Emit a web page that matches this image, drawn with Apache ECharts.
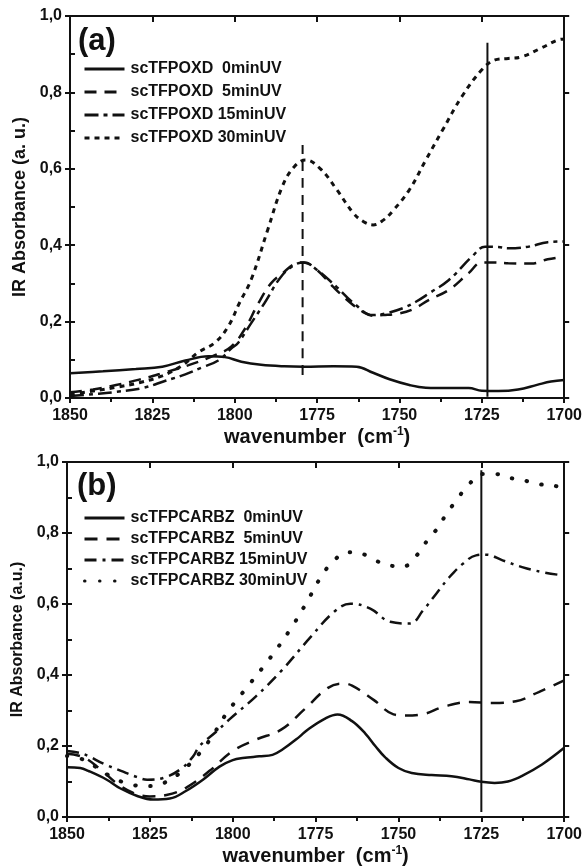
<!DOCTYPE html>
<html>
<head>
<meta charset="utf-8">
<script src="https://cdn.jsdelivr.net/npm/echarts@6/dist/echarts.min.js"></script>
<style>
  html, body { margin: 0; padding: 0; background: #fff; }
  #chart { width: 585px; height: 867px; }
</style>
</head>
<body>
<div id="chart"></div>
<script>
const FONT = '"Liberation Sans", Arial, Helvetica, sans-serif'
const INK = '#111'

// panel (a): scTFPOXD
const aNames = ['scTFPOXD  0minUV', 'scTFPOXD  5minUV', 'scTFPOXD 15minUV', 'scTFPOXD 30minUV']
const aWn0 = [1850, 1840, 1830, 1822, 1815, 1808, 1803, 1798, 1792, 1785, 1779, 1770, 1763, 1758, 1753, 1747, 1742, 1735, 1729, 1725, 1720, 1714, 1708, 1704, 1700]
const aAbs0 = [0.065, 0.070, 0.076, 0.082, 0.098, 0.109, 0.107, 0.095, 0.087, 0.083, 0.082, 0.083, 0.082, 0.066, 0.049, 0.034, 0.027, 0.026, 0.026, 0.019, 0.018, 0.022, 0.035, 0.043, 0.047]
const aWn5 = [1850, 1843, 1836, 1829, 1822, 1814, 1806, 1801, 1797, 1793, 1789, 1785, 1782, 1779, 1775, 1770, 1765, 1761, 1758, 1755, 1751, 1746, 1741, 1735, 1729, 1725, 1721, 1717, 1710, 1705, 1700]
const aAbs5 = [0.015, 0.022, 0.034, 0.048, 0.065, 0.086, 0.112, 0.135, 0.18, 0.245, 0.30, 0.33, 0.35, 0.355, 0.335, 0.29, 0.25, 0.225, 0.215, 0.217, 0.22, 0.232, 0.257, 0.283, 0.327, 0.355, 0.355, 0.353, 0.352, 0.363, 0.37]
const aWn15 = [1850, 1843, 1836, 1828, 1821, 1815, 1810, 1805, 1801, 1799, 1795, 1791, 1786, 1782, 1779, 1775, 1769, 1764, 1758, 1754, 1749, 1745, 1741, 1735, 1728, 1724, 1720, 1717, 1711, 1705, 1700]
const aAbs15 = [0.005, 0.010, 0.016, 0.026, 0.045, 0.062, 0.080, 0.098, 0.13, 0.144, 0.196, 0.248, 0.317, 0.348, 0.355, 0.335, 0.29, 0.249, 0.217, 0.222, 0.235, 0.252, 0.274, 0.309, 0.37, 0.396, 0.395, 0.392, 0.396, 0.408, 0.41]
const aWn30 = [1850, 1843, 1836, 1829, 1822, 1816, 1811, 1806, 1802, 1798.5, 1795, 1790, 1785.5, 1782, 1778.5, 1774, 1769, 1764, 1761, 1758, 1755, 1752, 1747, 1742, 1737, 1731, 1725, 1721, 1717, 1713, 1707, 1702, 1700]
const aAbs30 = [0.010, 0.018, 0.028, 0.040, 0.058, 0.085, 0.12, 0.145, 0.187, 0.25, 0.31, 0.44, 0.555, 0.605, 0.623, 0.60, 0.545, 0.484, 0.462, 0.453, 0.465, 0.49, 0.545, 0.623, 0.70, 0.79, 0.859, 0.885, 0.889, 0.893, 0.916, 0.937, 0.94]
const aMarkSolid = [[1723.3, 0.003], [1723.3, 0.93]]
const aMarkDash = [[1779.4, 0.06], [1779.4, 0.662]]

// panel (b): scTFPCARBZ
const bNames = ['scTFPCARBZ  0minUV', 'scTFPCARBZ  5minUV', 'scTFPCARBZ 15minUV', 'scTFPCARBZ 30minUV']
const bWn0 = [1850, 1846, 1843.6, 1838, 1834, 1829, 1824, 1819, 1814, 1809, 1804, 1800, 1797, 1792, 1788, 1785, 1780, 1777.4, 1772, 1768.4, 1764, 1760, 1757, 1754, 1750, 1746, 1740, 1734, 1728.6, 1725, 1721, 1717, 1712.7, 1706.7, 1700]
const bAbs0 = [0.140, 0.138, 0.130, 0.105, 0.081, 0.060, 0.049, 0.052, 0.074, 0.105, 0.142, 0.160, 0.166, 0.171, 0.175, 0.19, 0.225, 0.246, 0.278, 0.289, 0.27, 0.235, 0.20, 0.168, 0.138, 0.124, 0.118, 0.115, 0.106, 0.099, 0.096, 0.100, 0.116, 0.148, 0.195]
const bWn5 = [1850, 1845, 1840, 1835, 1830, 1825, 1820, 1814, 1807, 1800, 1793, 1785.4, 1778.4, 1771.4, 1767, 1764, 1757.5, 1751.5, 1748.5, 1742.5, 1736.6, 1728.6, 1721.6, 1714.6, 1707.7, 1700]
const bAbs5 = [0.178, 0.168, 0.135, 0.095, 0.068, 0.058, 0.062, 0.083, 0.13, 0.186, 0.218, 0.246, 0.303, 0.363, 0.376, 0.37, 0.33, 0.289, 0.286, 0.29, 0.31, 0.324, 0.321, 0.326, 0.352, 0.385]
const bWn15 = [1850, 1846, 1843.6, 1839, 1833.7, 1829, 1825.8, 1821, 1815.7, 1812, 1810, 1805, 1801, 1793, 1785.5, 1776.4, 1769.4, 1764.5, 1758.5, 1752.5, 1746.5, 1742.5, 1738.6, 1734.6, 1730.6, 1726.6, 1723.6, 1718.6, 1712.7, 1706.7, 1700]
const bAbs15 = [0.186, 0.180, 0.172, 0.15, 0.13, 0.113, 0.105, 0.110, 0.135, 0.17, 0.20, 0.24, 0.275, 0.34, 0.41, 0.508, 0.578, 0.601, 0.587, 0.55, 0.545, 0.583, 0.629, 0.676, 0.713, 0.737, 0.739, 0.723, 0.704, 0.69, 0.68]
const bWn30 = [1850, 1846, 1842, 1836, 1830, 1826, 1822, 1818, 1814, 1810, 1806, 1801.8, 1795.3, 1788.8, 1782.9, 1777.9, 1773.4, 1769.9, 1765.4, 1761.5, 1757, 1753, 1748.5, 1744.5, 1741, 1738, 1735.6, 1732.6, 1729.1, 1724.6, 1720.6, 1716.7, 1711.7, 1707.2, 1703.2, 1700]
const bAbs30 = [0.172, 0.165, 0.145, 0.11, 0.09, 0.087, 0.092, 0.11, 0.14, 0.18, 0.23, 0.293, 0.37, 0.447, 0.525, 0.601, 0.676, 0.718, 0.746, 0.743, 0.723, 0.709, 0.706, 0.737, 0.783, 0.816, 0.853, 0.891, 0.933, 0.966, 0.966, 0.956, 0.947, 0.937, 0.933, 0.928]
const bMarkSolid = [[1725, 0.014], [1725, 0.977]]

const xTickFormat = (v) => String(v)
const yTickFormat = (v) => v.toFixed(1).replace('.', ',')

function zip(xs, ys) {
  return xs.map((x, i) => [x, ys[i]])
}

function panelAxes(gi, yName, yNameSize, yNameGap) {
  const frame = { color: INK, width: 2 }
  const xs = [
    {
      gridIndex: gi, type: 'value', min: 1700, max: 1850, interval: 25, inverse: true, position: 'bottom',
      axisLine: { onZero: false, lineStyle: frame },
      axisTick: { length: 5, lineStyle: frame },
      minorTick: { show: true, splitNumber: 2, length: 4, lineStyle: frame },
      splitLine: { show: false },
      axisLabel: { color: INK, fontFamily: FONT, fontWeight: 'bold', fontSize: 16, margin: 10, formatter: xTickFormat },
      name: '{n|wavenumber  (cm}{s|-1}{n|)}',
      nameLocation: 'middle',
      nameGap: 28,
      nameTextStyle: {
        rich: {
          n: { fontFamily: FONT, fontWeight: 'bold', fontSize: 20, color: INK, lineHeight: 22 },
          s: { fontFamily: FONT, fontWeight: 'bold', fontSize: 12, color: INK, lineHeight: 22, verticalAlign: 'top' },
        },
      },
    },
    {
      gridIndex: gi, type: 'value', min: 1700, max: 1850, interval: 25, inverse: true, position: 'top',
      axisLine: { onZero: false, lineStyle: frame },
      axisTick: { inside: true, length: 6, lineStyle: frame },
      axisLabel: { show: false },
      splitLine: { show: false },
    },
  ]
  const ys = [
    {
      gridIndex: gi, type: 'value', min: 0, max: 1, interval: 0.2, position: 'left',
      axisLine: { onZero: false, lineStyle: frame },
      axisTick: { length: 5, lineStyle: frame },
      splitLine: { show: false },
      axisLabel: { color: INK, fontFamily: FONT, fontWeight: 'bold', fontSize: 16, margin: 8, formatter: yTickFormat },
      name: yName,
      nameLocation: 'middle',
      nameGap: yNameGap,
      nameTextStyle: { fontFamily: FONT, fontWeight: 'bold', fontSize: yNameSize, color: INK },
    },
    {
      // inward minor ticks on the left frame
      gridIndex: gi, type: 'value', min: 0, max: 1, interval: 0.1, position: 'left',
      axisLine: { show: false },
      axisTick: { inside: true, length: 5, lineStyle: frame },
      axisLabel: { show: false },
      splitLine: { show: false },
    },
    {
      gridIndex: gi, type: 'value', min: 0, max: 1, interval: 0.2, position: 'right',
      axisLine: { onZero: false, lineStyle: frame },
      axisTick: { length: 5, lineStyle: frame },
      axisLabel: { show: false },
      splitLine: { show: false },
    },
  ]
  return { xs, ys }
}

function curve(name, data, xi, yi, type, extra) {
  return {
    name, type: 'line', data, xAxisIndex: xi, yAxisIndex: yi,
    symbol: 'none', smooth: 0.4, silent: true, color: INK,
    lineStyle: Object.assign({ color: INK, width: 2.5, type }, extra || {}),
  }
}

const axesA = panelAxes(0, 'IR Absorbance (a. u.)', 18, 34)
const axesB = panelAxes(1, 'IR Absorbance (a.u.)', 16, 35)

const legendText = { color: INK, fontFamily: FONT, fontWeight: 'bold', fontSize: 16, padding: [0, 0, 0, 1] }
const legendBase = {
  orient: 'vertical', left: 78, itemWidth: 40, itemHeight: 12,
  textStyle: legendText, selectedMode: false,
  itemStyle: { color: 'transparent', borderWidth: 0, opacity: 0 },
  lineStyle: { width: 3 },
}

const chart = echarts.init(document.getElementById('chart'))
chart.setOption({
  animation: false,
  backgroundColor: '#fff',
  grid: [
    { left: 70, right: 16, top: 16, height: 382 },
    { left: 67, right: 16, top: 462, height: 356 },
  ],
  xAxis: axesA.xs.concat(axesB.xs),
  yAxis: axesA.ys.concat(axesB.ys),
  legend: [
    Object.assign({}, legendBase, { data: aNames, top: 56, itemGap: 7 }),
    Object.assign({}, legendBase, { data: bNames, top: 505, itemGap: 5 }),
  ],
  graphic: [
    { type: 'text', left: 78, top: 26, style: { text: '(a)', font: 'bold 31px ' + FONT, fill: INK } },
    { type: 'text', left: 77, top: 471, style: { text: '(b)', font: 'bold 31px ' + FONT, fill: INK } },
  ],
  series: [
    curve(aNames[0], zip(aWn0, aAbs0), 0, 0, 'solid'),
    curve(aNames[1], zip(aWn5, aAbs5), 0, 0, [12, 8]),
    curve(aNames[2], zip(aWn15, aAbs15), 0, 0, [14, 5, 4, 5]),
    curve(aNames[3], zip(aWn30, aAbs30), 0, 0, [5, 5], { width: 3 }),
    curve('markA1', aMarkSolid, 0, 0, 'solid', { width: 2 }),
    curve('markA2', aMarkDash, 0, 0, [10, 7], { width: 2 }),

    curve(bNames[0], zip(bWn0, bAbs0), 2, 3, 'solid'),
    curve(bNames[1], zip(bWn5, bAbs5), 2, 3, [13, 9]),
    curve(bNames[2], zip(bWn15, bAbs15), 2, 3, [12, 6, 3, 6]),
    curve(bNames[3], zip(bWn30, bAbs30), 2, 3, [0.5, 14.5], { width: 4, cap: 'round' }),
    curve('markB1', bMarkSolid, 2, 3, 'solid', { width: 2 }),
  ],
})
</script>
</body>
</html>
